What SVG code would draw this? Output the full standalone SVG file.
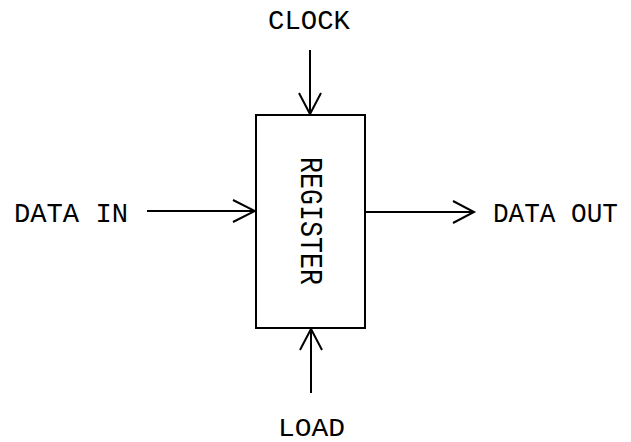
<svg xmlns="http://www.w3.org/2000/svg" width="631" height="442" viewBox="0 0 631 442">
<style>
.t{font-family:"Liberation Mono","Courier New",monospace;font-size:27px;fill:#000}
.ln{stroke:#000;stroke-width:2;fill:none}
</style>
<rect width="631" height="442" fill="#fff"/>
<g id="register">
<rect x="256" y="115" width="109" height="213" class="ln"/>
<text class="t" transform="translate(301,221) rotate(90)" text-anchor="middle" textLength="128" lengthAdjust="spacingAndGlyphs" style="font-size:31px">REGISTER</text>
</g>
<g id="clock"><text class="t" x="268" y="29" textLength="82" lengthAdjust="spacingAndGlyphs">CLOCK</text></g>
<g id="data-in"><text class="t" x="14" y="222" textLength="114" lengthAdjust="spacingAndGlyphs">DATA IN</text></g>
<g id="data-out"><text class="t" x="493" y="222" textLength="125" lengthAdjust="spacingAndGlyphs">DATA OUT</text></g>
<g id="load"><text class="t" x="278" y="436" textLength="67" lengthAdjust="spacingAndGlyphs" style="font-size:25px">LOAD</text></g>
<g id="connectors" class="ln">
<path d="M310 50V114M299 93L310 114L321 93"/>
<path d="M147 211H255M233 200L255 211L233 222"/>
<path d="M365 212H474M453 201L474 212L453 223"/>
<path d="M311 393V329M300 350L311 329L322 350"/>
</g>
</svg>
